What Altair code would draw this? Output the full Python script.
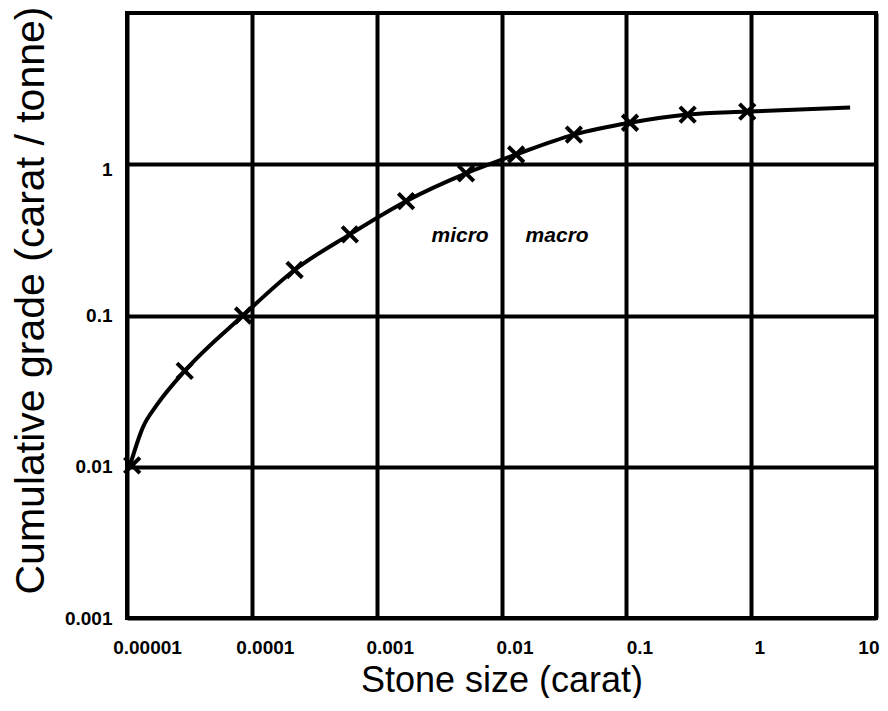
import altair as alt
import pandas as pd

# Measured data points (crosses)
marker_size = [1.1e-5, 2.9e-5, 8.5e-5, 2.2e-4, 6.1e-4, 1.72e-3, 5.2e-3, 0.0131, 0.038, 0.107, 0.31, 0.93]
marker_grade = [0.0102, 0.043, 0.1, 0.2, 0.344, 0.57, 0.87, 1.16, 1.57, 1.88, 2.13, 2.23]

# Smooth fitted curve
curve_size = [1.05e-5, 1.34e-5, 1.74e-5, 2.9e-5, 8.5e-5, 2.2e-4, 6.1e-4, 1.72e-3, 5.2e-3,
              0.0131, 0.038, 0.107, 0.31, 0.93, 6.2]
curve_grade = [0.0100, 0.0182, 0.0257, 0.043, 0.1, 0.2, 0.344, 0.57, 0.87,
               1.16, 1.57, 1.88, 2.13, 2.23, 2.37]

x_ticks = [1e-5, 1e-4, 1e-3, 1e-2, 1e-1, 1, 10]
y_ticks = [1e-3, 1e-2, 1e-1, 1]

label_text = ["micro", "macro"]
label_size = [0.00466, 0.0279]
label_grade = [0.334, 0.334]

markers = pd.DataFrame({"size": marker_size, "grade": marker_grade})
curve = pd.DataFrame({"size": curve_size, "grade": curve_grade})
labels = pd.DataFrame({"size": label_size, "grade": label_grade, "text": label_text})

x_scale = alt.Scale(type="log", domain=[1e-5, 10])
y_scale = alt.Scale(type="log", domain=[1e-3, 10])

x_axis = alt.Axis(
    values=x_ticks, format="~f", title="Stone size (carat)",
    grid=True, gridColor="black", gridWidth=4, gridOpacity=1,
    ticks=False, domain=False, labelFontWeight="bold", labelFontSize=19,
    labelColor="black", labelPadding=20, labelFlush=False,
    labelOffset={"condition": [
        {"test": "datum.value < 0.00005", "value": 20},
        {"test": "datum.value > 5", "value": 3},
        {"test": "datum.value > 0.5", "value": 8},
    ], "value": 13},
    labelAlign={"condition": {"test": "datum.value > 5", "value": "right"}, "value": "center"},
    titleFontSize=36, titleFontWeight="normal", titleColor="black",
    titleBaseline="alphabetic", titleY=73,
)
y_axis = alt.Axis(
    values=y_ticks, format="~f", title="Cumulative grade (carat / tonne)",
    grid=True, gridColor="black", gridWidth=4, gridOpacity=1,
    ticks=False, domain=False, labelFontWeight="bold", labelFontSize=19,
    labelColor="black", labelPadding=15, labelFlush=False,
    labelOffset={"condition": {"test": "datum.value > 0.5", "value": 5}, "value": 0},
    titleFontSize=41, titleFontWeight="normal", titleColor="black",
    titleBaseline="alphabetic", titleX=-84, titleY=287,
)

line = alt.Chart(curve).mark_line(color="black", strokeWidth=4, interpolate="monotone").encode(
    x=alt.X("size:Q", scale=x_scale, axis=x_axis),
    y=alt.Y("grade:Q", scale=y_scale, axis=y_axis),
)

points = alt.Chart(markers).mark_point(
    shape="M-1,-1L1,1M-1,1L1,-1", filled=False, color="black", strokeWidth=4, size=240, opacity=1
).encode(
    x=alt.X("size:Q", scale=x_scale),
    y=alt.Y("grade:Q", scale=y_scale),
)

text = alt.Chart(labels).mark_text(
    fontSize=21, fontWeight="bold", fontStyle="italic", color="black", font="Liberation Sans"
).encode(
    x=alt.X("size:Q", scale=x_scale),
    y=alt.Y("grade:Q", scale=y_scale),
    text="text:N",
)

chart = alt.layer(line, points, text).properties(
    width=749, height=605,
    autosize=alt.AutoSizeParams(type="none"),
    padding={"left": 119, "top": 5, "right": 4, "bottom": 80},
).configure(
    font="Liberation Sans",
    view=alt.ViewConfig(stroke="black", strokeWidth=4),
)

chart.save("out.html", embed_options={"renderer": "svg", "actions": False})
